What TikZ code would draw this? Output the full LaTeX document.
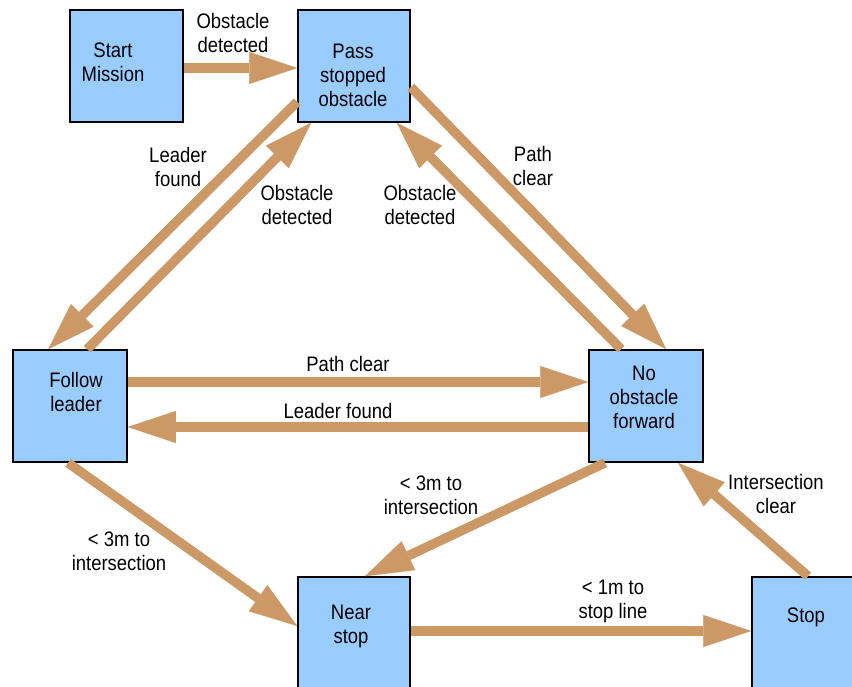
\documentclass[tikz,border=0pt]{standalone}
\usepackage{fontspec}
\setmainfont{Liberation Sans}[FakeStretch=0.88]
\usetikzlibrary{arrows.meta}
\definecolor{arrowtan}{RGB}{204,153,102}
\definecolor{boxblue}{RGB}{153,204,255}
\begin{document}
\begin{tikzpicture}[x=1pt,y=-1pt,
  statebox/.style={draw=black, line width=1.6pt, fill=boxblue, minimum height=112pt, inner sep=0pt},
  txt/.style={align=center, font=\fontsize{21}{24}\selectfont, inner sep=0pt, text=black},
  arr/.style={draw=arrowtan, line width=9.5pt, -{Triangle[length=48pt,width=32pt,line width=0.1pt]}, arrowtan}
]
\useasboundingbox (0,0) rectangle (852,686);
\fill[white] (0,0) rectangle (852,686);
\clip (0,0) rectangle (852,686);

% state boxes
\node[statebox, minimum width=113pt] (start)  at (126.5,66) {};
\node[statebox, minimum width=112pt] (pass)   at (354,66)   {};
\node[statebox, minimum width=114pt] (follow) at (70,406)   {};
\node[statebox, minimum width=114pt] (noobs)  at (646,406)  {};
\node[statebox, minimum width=112pt] (near)   at (354,633)  {};
\node[statebox, minimum width=112pt] (stop)   at (808,633)  {};

% box texts
\node[txt] (tstart)  at (113,62)    {Start\\Mission};
\node[txt] (tpass)   at (353,75)    {Pass\\stopped\\obstacle};
\node[txt] (tfollow) at (76,391.5)  {Follow\\leader};
\node[txt] (tnoobs)  at (644,397)   {No\\obstacle\\forward};
\node[txt] (tnear)   at (351,626)   {Near\\stop};
\node[txt] (tstop)   at (806,617)   {Stop};

% connectors
\draw[arr] ([yshift=-2pt]start.east) -- ([yshift=-2pt]pass.west);
\draw[arr] ([yshift=21pt]pass.south west) -- ([xshift=36pt]follow.north west);
\draw[arr] ([xshift=75pt]follow.north west) -- ([xshift=14pt]pass.south west);
\draw[arr] ([yshift=-21pt]pass.east) -- ([xshift=78pt]noobs.north west);
\draw[arr] ([xshift=33pt]noobs.north west) -- ([xshift=-14pt]pass.south east);
\draw[arr] ([yshift=24pt]follow.east) -- ([yshift=24pt]noobs.west);
\draw[arr] ([yshift=-21pt]noobs.west) -- ([yshift=-21pt]follow.east);
\draw[arr] ([xshift=-2pt]follow.south) -- ([yshift=7pt]near.west);
\draw[arr] ([xshift=-41pt]noobs.south) -- ([xshift=11pt]near.north);
\draw[arr] ([yshift=2pt]near.east) -- ([yshift=2pt]stop.west);
\draw[arr] (stop.north) -- ([xshift=32pt]noobs.south);

% connector labels
\node[txt] (l1)  at (233,33)    {Obstacle\\detected};
\node[txt] (l2)  at (178,166.5) {Leader\\found};
\node[txt] (l3)  at (297,204.5) {Obstacle\\detected};
\node[txt] (l4)  at (420,204.5) {Obstacle\\detected};
\node[txt] (l5)  at (533,166)   {Path\\clear};
\node[txt] (l6)  at (348,364)   {Path clear};
\node[txt] (l7)  at (338,411)   {Leader found};
\node[txt] (l8)  at (119,551)   {< 3m to\\intersection};
\node[txt] (l9)  at (431,495)   {< 3m to\\intersection};
\node[txt] (l10) at (776,494)   {Intersection\\clear};
\node[txt] (l11) at (613,601)   {< 1m to\\stop line};
\end{tikzpicture}
\end{document}
